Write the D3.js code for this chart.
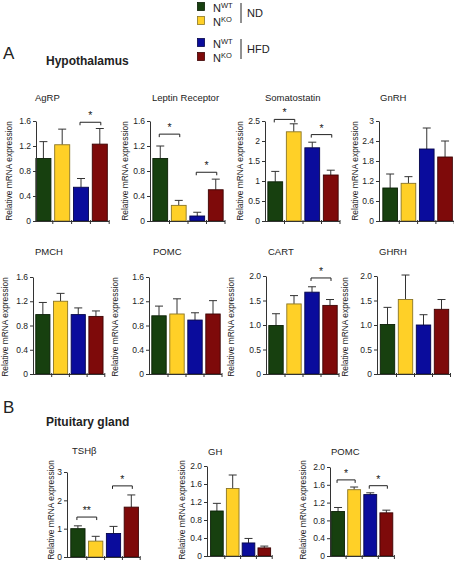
<!DOCTYPE html>
<html><head><meta charset="utf-8">
<script src="https://cdn.jsdelivr.net/npm/d3@7"></script>
<style>body{margin:0;background:#fff}svg{display:block;font-family:"Liberation Sans",Arial,Helvetica,sans-serif}</style>
</head><body>
<svg id="c" width="454" height="562"></svg>
<script>
// ---------- DATA ----------
const groups = ["NWT ND", "NKO ND", "NWT HFD", "NKO HFD"];
const genotypeLabels = [["N","WT"],["N","KO"],["N","WT"],["N","KO"]];
const dietLabels = ["ND", "HFD"];
const sectionLabels = ["A", "B"];
const sectionTitles = ["Hypothalamus", "Pituitary gland"];
const yAxisLabel = "Relative mRNA expression";

const agrpMean  = [1.00, 1.22, 0.54, 1.23];
const agrpSem   = [0.27, 0.25, 0.14, 0.25];
const leprMean  = [1.00, 0.25, 0.08, 0.50];
const leprSem   = [0.20, 0.08, 0.06, 0.17];
const sstMean   = [0.98, 2.23, 1.83, 1.15];
const sstSem    = [0.26, 0.20, 0.14, 0.12];
const gnrhMean  = [0.99, 1.13, 2.16, 1.92];
const gnrhSem   = [0.42, 0.20, 0.63, 0.48];
const pmchMean  = [0.98, 1.20, 0.98, 0.95];
const pmchSem   = [0.20, 0.13, 0.11, 0.09];
const pomcMean  = [0.96, 0.99, 0.89, 0.99];
const pomcSem   = [0.16, 0.25, 0.12, 0.22];
const cartMean  = [0.99, 1.43, 1.67, 1.40];
const cartSem   = [0.24, 0.17, 0.11, 0.12];
const ghrhMean  = [1.01, 1.52, 1.00, 1.32];
const ghrhSem   = [0.35, 0.50, 0.21, 0.20];
const tshbMean  = [1.00, 0.56, 0.83, 1.76];
const tshbSem   = [0.10, 0.17, 0.25, 0.43];
const ghMean    = [1.00, 1.50, 0.29, 0.18];
const ghSem     = [0.17, 0.30, 0.10, 0.04];
const pomcPMean = [1.00, 1.49, 1.38, 0.97];
const pomcPSem  = [0.09, 0.06, 0.04, 0.06];

const ticks16 = [0, 0.4, 0.8, 1.2, 1.6];
const ticks16Labels = ["0", "0.4", "0.8", "1.2", "1.6"];
const ticks25 = [0, 0.5, 1, 1.5, 2, 2.5];
const ticks25Labels = ["0", "0.5", "1", "1.5", "2", "2.5"];
const ticks3 = [0, 0.6, 1.2, 1.8, 2.4, 3];
const ticks3Labels = ["0", "0.6", "1.2", "1.8", "2.4", "3"];
const ticks20 = [0, 0.5, 1.0, 1.5, 2.0];
const ticks20Labels = ["0", "0.5", "1.0", "1.5", "2.0"];
const ticksT = [0, 1, 2, 3];
const ticksTLabels = ["0", "1", "2", "3"];
const ticks20b = [0, 0.4, 0.8, 1.2, 1.6, 2.0];
const ticks20bLabels = ["0", "0.4", "0.8", "1.2", "1.6", "2.0"];

// significance: [groupA, groupB, bracket height (data units), label]
const agrpSig  = [[2, 3, 1.58, "*"]];
const leprSig  = [[0, 1, 1.39, "*"], [2, 3, 0.78, "*"]];
const sstSig   = [[0, 1, 2.54, "*"], [2, 3, 2.16, "*"]];
const cartSig  = [[2, 3, 1.96, "*"]];
const tshbSig  = [[0, 1, 1.41, "**"], [2, 3, 2.51, "*"]];
const pomcPSig = [[0, 1, 1.71, "*"], [2, 3, 1.58, "*"]];

// ---------- STYLE / LAYOUT ----------
const colors = ["#17400f", "#ffd027", "#0a0c9c", "#7e0a0a"];
const strokes = ["#0a1f06", "#8a7525", "#05064a", "#3d0404"];

const panels = [
  {title:"AgRP", mean:agrpMean, sem:agrpSem, sig:agrpSig, ymax:1.6, ticks:ticks16, labels:ticks16Labels, ax:36, bx:34, step:18.8, top:121, bottom:221, tx:35, ty:101, lx:11.5, ly:171},
  {title:"Leptin Receptor", mean:leprMean, sem:leprSem, sig:leprSig, ymax:1.6, ticks:ticks16, labels:ticks16Labels, ax:150, bx:151, step:18.5, top:121, bottom:221, tx:152, ty:101, lx:128, ly:171},
  {title:"Somatostatin", mean:sstMean, sem:sstSem, sig:sstSig, ymax:2.5, ticks:ticks25, labels:ticks25Labels, ax:265, bx:266, step:18.5, top:121, bottom:221, tx:265, ty:101, lx:243, ly:171},
  {title:"GnRH", mean:gnrhMean, sem:gnrhSem, sig:[], ymax:3, ticks:ticks3, labels:ticks3Labels, ax:379, bx:381, step:18.3, top:121, bottom:221, tx:380, ty:101, lx:358, ly:171},
  {title:"PMCH", mean:pmchMean, sem:pmchSem, sig:[], ymax:1.6, ticks:ticks16, labels:ticks16Labels, ax:33, bx:34, step:17.7, top:277, bottom:374, tx:35, ty:255, lx:8, ly:327},
  {title:"POMC", mean:pomcMean, sem:pomcSem, sig:[], ymax:1.6, ticks:ticks16, labels:ticks16Labels, ax:149, bx:150, step:18, top:277, bottom:374, tx:153, ty:255, lx:118, ly:327},
  {title:"CART", mean:cartMean, sem:cartSem, sig:cartSig, ymax:2.0, ticks:ticks20, labels:ticks20Labels, ax:266, bx:267, step:18, top:276, bottom:374, tx:268, ty:255, lx:234, ly:327},
  {title:"GHRH", mean:ghrhMean, sem:ghrhSem, sig:[], ymax:2.0, ticks:ticks20, labels:ticks20Labels, ax:377, bx:378.5, step:18, top:276, bottom:374, tx:379, ty:255, lx:348, ly:327},
  {title:"TSHβ", mean:tshbMean, sem:tshbSem, sig:tshbSig, ymax:3, ticks:ticksT, labels:ticksTLabels, ax:67, bx:69, step:17.8, top:472, bottom:557, tx:72, ty:454, lx:53.5, ly:510},
  {title:"GH", mean:ghMean, sem:ghSem, sig:[], ymax:2.0, ticks:ticks20b, labels:ticks20bLabels, ax:207, bx:209, step:15.8, top:466, bottom:556, tx:208, ty:455, lx:184.5, ly:510},
  {title:"POMC", mean:pomcPMean, sem:pomcPSem, sig:pomcPSig, ymax:2.0, ticks:ticks20b, labels:ticks20bLabels, ax:330, bx:330, step:16.1, top:467, bottom:556, tx:331, ty:455, lx:305.5, ly:510}
];

const svg = d3.select("#c");
const ink = "#222";

// ---------- LEGEND ----------
const legY = [2, 16, 38, 52];
const leg = svg.append("g");
groups.forEach((g, i) => {
  leg.append("rect").attr("x", 197.5).attr("y", legY[i] + 0.5).attr("width", 7).attr("height", 8)
    .attr("fill", colors[i]).attr("stroke", strokes[i]).attr("stroke-width", 0.8);
  const t = leg.append("text").attr("x", 213).attr("y", legY[i] + 9.5).attr("font-size", 11).attr("fill", ink);
  t.append("tspan").text(genotypeLabels[i][0]);
  t.append("tspan").attr("dy", -4).attr("font-size", 7.5).text(genotypeLabels[i][1]);
});
dietLabels.forEach((d, i) => {
  const y0 = [3, 39][i];
  leg.append("line").attr("x1", 241).attr("x2", 241).attr("y1", y0).attr("y2", y0 + 20)
    .attr("stroke", ink).attr("stroke-width", 1);
  leg.append("text").attr("x", 247).attr("y", y0 + 14).attr("font-size", 11).attr("fill", ink).text(d);
});

// ---------- SECTION HEADINGS ----------
[[3, 58.5, 46, 64.5], [3, 413, 46, 425.5]].forEach((pos, i) => {
  svg.append("text").attr("x", pos[0]).attr("y", pos[1]).attr("font-size", 17).attr("fill", ink).text(sectionLabels[i]);
  svg.append("text").attr("x", pos[2]).attr("y", pos[3]).attr("font-size", 12).attr("font-weight", "bold").attr("fill", ink).text(sectionTitles[i]);
});

// ---------- PANELS ----------
panels.forEach(p => {
  const g = svg.append("g");
  const y = d3.scaleLinear().domain([0, p.ymax]).range([p.bottom, p.top]);
  const x = d3.scaleBand().domain(groups).range([p.bx, p.bx + 4 * p.step]).paddingInner(0.2).paddingOuter(0.1);
  const rows = groups.map((k, i) => ({k, i, m: p.mean[i], s: p.sem[i]}));

  // title
  g.append("text").attr("x", p.tx).attr("y", p.ty).attr("font-size", 9.5).attr("fill", ink).text(p.title);

  // y label
  g.append("text").attr("transform", `translate(${p.lx},${p.ly}) rotate(-90)`)
    .attr("text-anchor", "middle").attr("font-size", 8.4).attr("fill", ink).text(yAxisLabel);

  // error bars
  rows.forEach(r => {
    const cx = x(r.k) + x.bandwidth() / 2;
    g.append("line").attr("x1", cx).attr("x2", cx).attr("y1", y(r.m)).attr("y2", y(r.m + r.s))
      .attr("stroke", "#333").attr("stroke-width", 1);
    g.append("line").attr("x1", cx - 4).attr("x2", cx + 4).attr("y1", y(r.m + r.s)).attr("y2", y(r.m + r.s))
      .attr("stroke", "#333").attr("stroke-width", 1);
  });

  // bars
  g.selectAll("rect.bar").data(rows).join("rect").attr("class", "bar")
    .attr("x", d => x(d.k)).attr("width", x.bandwidth())
    .attr("y", d => y(d.m)).attr("height", d => y(0) - y(d.m))
    .attr("fill", d => colors[d.i]).attr("stroke", d => strokes[d.i]).attr("stroke-width", 0.9);

  // y axis
  const ya = g.append("g").attr("transform", `translate(${p.ax},0)`)
    .call(d3.axisLeft(y).tickValues(p.ticks).tickFormat((d, i) => p.labels[i]).tickSize(3).tickSizeOuter(0).tickPadding(2));
  ya.select(".domain").attr("stroke", "#333");
  ya.selectAll(".tick line").attr("stroke", "#333");
  ya.selectAll(".tick text").attr("font-size", 8.5).attr("fill", ink);
  ya.attr("font-family", null);

  // x axis
  const xEnd = p.bx + 4 * p.step;
  g.append("line").attr("x1", p.ax).attr("x2", xEnd).attr("y1", p.bottom + 0.5).attr("y2", p.bottom + 0.5)
    .attr("stroke", "#333").attr("stroke-width", 1);
  groups.forEach((k, i) => {
    const tx = x(k) + x.bandwidth() + x.step() * x.paddingInner() / 2;
    g.append("line").attr("x1", tx).attr("x2", tx).attr("y1", p.bottom - 1).attr("y2", p.bottom + 3)
      .attr("stroke", "#333").attr("stroke-width", 1);
  });

  // significance brackets
  p.sig.forEach(s => {
    const xa = x(groups[s[0]]) + x.bandwidth() / 2 - 1;
    const xb = x(groups[s[1]]) + x.bandwidth() / 2 + 1;
    const yy = y(s[2]);
    g.append("path").attr("d", `M${xa},${yy + 3}V${yy}H${xb}V${yy + 3}`)
      .attr("fill", "none").attr("stroke", ink).attr("stroke-width", 1);
    g.append("text").attr("x", (xa + xb) / 2).attr("y", yy - 3).attr("text-anchor", "middle")
      .attr("font-size", 10.5).attr("fill", ink).text(s[3]);
  });
});
</script>
</body></html>
